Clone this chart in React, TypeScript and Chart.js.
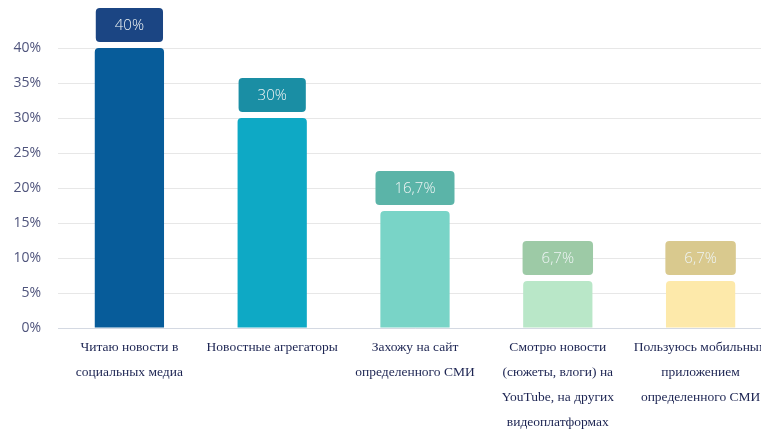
import React, { useEffect, useRef } from "react";
import { Chart, registerables } from "chart.js";

Chart.register(...registerables);

const categories: string[][] = [
  ["Читаю новости в", "социальных медиа"],
  ["Новостные агрегаторы"],
  ["Захожу на сайт", "определенного СМИ"],
  ["Смотрю новости", "(сюжеты, влоги) на", "YouTube, на других", "видеоплатформах"],
  ["Пользуюсь мобильным", "приложением", "определенного СМИ"],
];
const values: number[] = [40, 30, 16.7, 6.7, 6.7];
const valueLabels: string[] = ["40%", "30%", "16,7%", "6,7%", "6,7%"];
const barColors: string[] = ["#075c9a", "#0ea9c5", "#79d4c7", "#b9e7c8", "#fde9aa"];
const boxColors: string[] = ["#1b4583", "#1a8ea4", "#5bb4a8", "#9dcaa6", "#d9c98e"];

const labelBoxPlugin = {
  id: "labelBoxes",
  afterDatasetsDraw(chart: any) {
    const ctx = chart.ctx;
    const meta = chart.getDatasetMeta(0);
    ctx.save();
    ctx.font = "300 15px 'Open Sans'";
    ctx.textAlign = "center";
    ctx.textBaseline = "middle";
    meta.data.forEach((bar: any, i: number) => {
      const text = valueLabels[i];
      const tw = ctx.measureText(text).width;
      const w = tw + 38;
      const h = 34;
      const x = bar.x - w / 2;
      const y = bar.y - 6 - h;
      ctx.fillStyle = boxColors[i];
      ctx.beginPath();
      (ctx as any).roundRect(x, y, w, h, 4);
      ctx.fill();
      ctx.fillStyle = "#eef4f4";
      ctx.fillText(text, bar.x, y + h / 2 + 1);
    });
    ctx.restore();
  },
};

export default function App() {
  const ref = useRef<HTMLCanvasElement | null>(null);
  useEffect(() => {
    if (!ref.current) return;
    const chart = new Chart(ref.current, {
      type: "bar",
      data: {
        labels: categories,
        datasets: [
          {
            data: values,
            backgroundColor: barColors,
            borderRadius: 4,
            borderSkipped: "bottom",
            categoryPercentage: 1,
            barPercentage: 0.485,
          },
        ],
      },
      options: {
        animation: false,
        responsive: false,
        layout: { padding: { top: 48, right: 18, left: 0, bottom: 0 } },
        plugins: { legend: { display: false }, tooltip: { enabled: false } },
        scales: {
          x: {
            grid: { display: false, drawTicks: false },
            border: { display: true, color: "#d4d9e2" },
            ticks: {
              autoSkip: false,
              maxRotation: 0,
              padding: 7,
              color: "#1c2452",
              font: { family: "'Liberation Serif', serif", size: 13.5, lineHeight: "25px" as any },
            },
            afterFit: (scale: any) => {
              scale.height = 102;
            },
          },
          y: {
            min: 0,
            max: 40,
            grid: { color: "#e7e7e7", drawTicks: false },
            border: { display: false },
            ticks: {
              stepSize: 5,
              padding: 17,
              color: "#4f547c",
              font: { family: "'Open Sans'", size: 14, weight: 400 as any },
              callback: (v: any) => v + "%",
            },
            afterFit: (scale: any) => {
              scale.width = 58;
            },
          },
        },
      },
      plugins: [labelBoxPlugin],
    });
    return () => chart.destroy();
  }, []);
  return (
    <div style={{ position: "fixed", left: 0, top: 0, width: 761, height: 430, overflow: "hidden", background: "#fff" }}>
      <canvas ref={ref} width={790} height={430} style={{ width: 790, height: 430, display: "block" }} />
    </div>
  );
}
